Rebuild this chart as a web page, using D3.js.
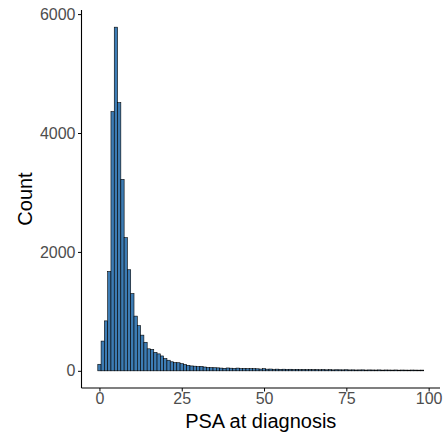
<!DOCTYPE html>
<html>
<head>
<meta charset="utf-8">
<script src="https://cdn.jsdelivr.net/npm/d3@7"></script>
<style>
  html, body { margin: 0; padding: 0; background: #fff; }
  svg { display: block; }
</style>
</head>
<body>
<script>
// Histogram of PSA at diagnosis, one-unit bins centred on integers 0..98
const binCenters = d3.range(0, 99);
const counts = [
  110, 500, 840, 1670, 4360, 5780, 4510, 3220, 2240, 1700,
  1300, 920, 760, 600, 480, 370, 360, 310, 285, 250,
  205, 178, 152, 138, 136, 120, 106, 92, 82, 78,
  70, 75, 64, 56, 54, 52, 50, 46, 42, 48,
  44, 40, 46, 38, 40, 36, 38, 36, 34, 30,
  36, 28, 30, 26, 28, 25, 27, 24, 26, 22,
  25, 21, 22, 20, 22, 19, 20, 18, 21, 17,
  19, 16, 18, 17, 16, 18, 15, 16, 14, 15,
  16, 13, 15, 14, 13, 15, 12, 14, 13, 12,
  14, 11, 13, 12, 11, 13, 12, 11, 12
];
const xTicks = [0, 25, 50, 75, 100];
const yTicks = [0, 2000, 4000, 6000];
const xTitle = "PSA at diagnosis";
const yTitle = "Count";

const W = 444, H = 432;
const panel = { left: 81.5, right: 440, top: 10, bottom: 388 };
const font = "'Liberation Sans', Arial, Helvetica, sans-serif";

const svg = d3.select("body").append("svg")
  .attr("width", W).attr("height", H);

// Scale domains padded by 5% on each side
const binW = 1;
const xMin = binCenters[0] - binW / 2, xMax = binCenters[binCenters.length - 1] + binW / 2;
const xPad = (xMax - xMin) * 0.05;
const x = d3.scaleLinear()
  .domain([xMin - xPad, xMax + xPad])
  .range([panel.left, panel.right]);

const yMax = d3.max(counts);
const y = d3.scaleLinear()
  .domain([-0.05 * yMax, 1.05 * yMax])
  .range([panel.bottom, panel.top]);

// Bars
svg.append("g")
  .selectAll("rect")
  .data(binCenters.map((c, i) => ({ c, n: counts[i] })))
  .join("rect")
  .attr("x", d => x(d.c - binW / 2))
  .attr("width", d => x(d.c + binW / 2) - x(d.c - binW / 2))
  .attr("y", d => y(d.n))
  .attr("height", d => y(0) - y(d.n))
  .attr("fill", "#3D7CB4")
  .attr("stroke", "#000")
  .attr("stroke-width", 0.6);

// Axes
const xAxis = d3.axisBottom(x).tickValues(xTicks).tickFormat(d3.format("d"))
  .tickSize(3.5).tickPadding(1.6);
const yAxis = d3.axisLeft(y).tickValues(yTicks).tickFormat(d3.format("d"))
  .tickSize(3.5).tickPadding(2.5);

const gx = svg.append("g")
  .attr("transform", `translate(0,${panel.bottom})`)
  .call(xAxis);
const gy = svg.append("g")
  .attr("transform", `translate(${panel.left},0)`)
  .call(yAxis);

[gx, gy].forEach(g => {
  g.select(".domain").remove();
  g.selectAll(".tick line").attr("stroke", "#000").attr("stroke-width", 1);
  g.selectAll(".tick text")
    .attr("fill", "#4D4D4D")
    .style("font-family", font)
    .style("font-size", "16px");
});

// Axis lines
svg.append("line")
  .attr("x1", panel.left).attr("x2", panel.right)
  .attr("y1", panel.bottom).attr("y2", panel.bottom)
  .attr("stroke", "#000").attr("stroke-width", 1.1);
svg.append("line")
  .attr("x1", panel.left).attr("x2", panel.left)
  .attr("y1", panel.top).attr("y2", panel.bottom)
  .attr("stroke", "#000").attr("stroke-width", 1.1);

// Axis titles
svg.append("text")
  .attr("x", (panel.left + panel.right) / 2)
  .attr("y", 427.5)
  .attr("text-anchor", "middle")
  .style("font-family", font)
  .style("font-size", "20px")
  .attr("fill", "#000")
  .text(xTitle);

svg.append("text")
  .attr("transform", `translate(32,${(panel.top + panel.bottom) / 2}) rotate(-90)`)
  .attr("text-anchor", "middle")
  .style("font-family", font)
  .style("font-size", "20px")
  .attr("fill", "#000")
  .text(yTitle);
</script>
</body>
</html>
